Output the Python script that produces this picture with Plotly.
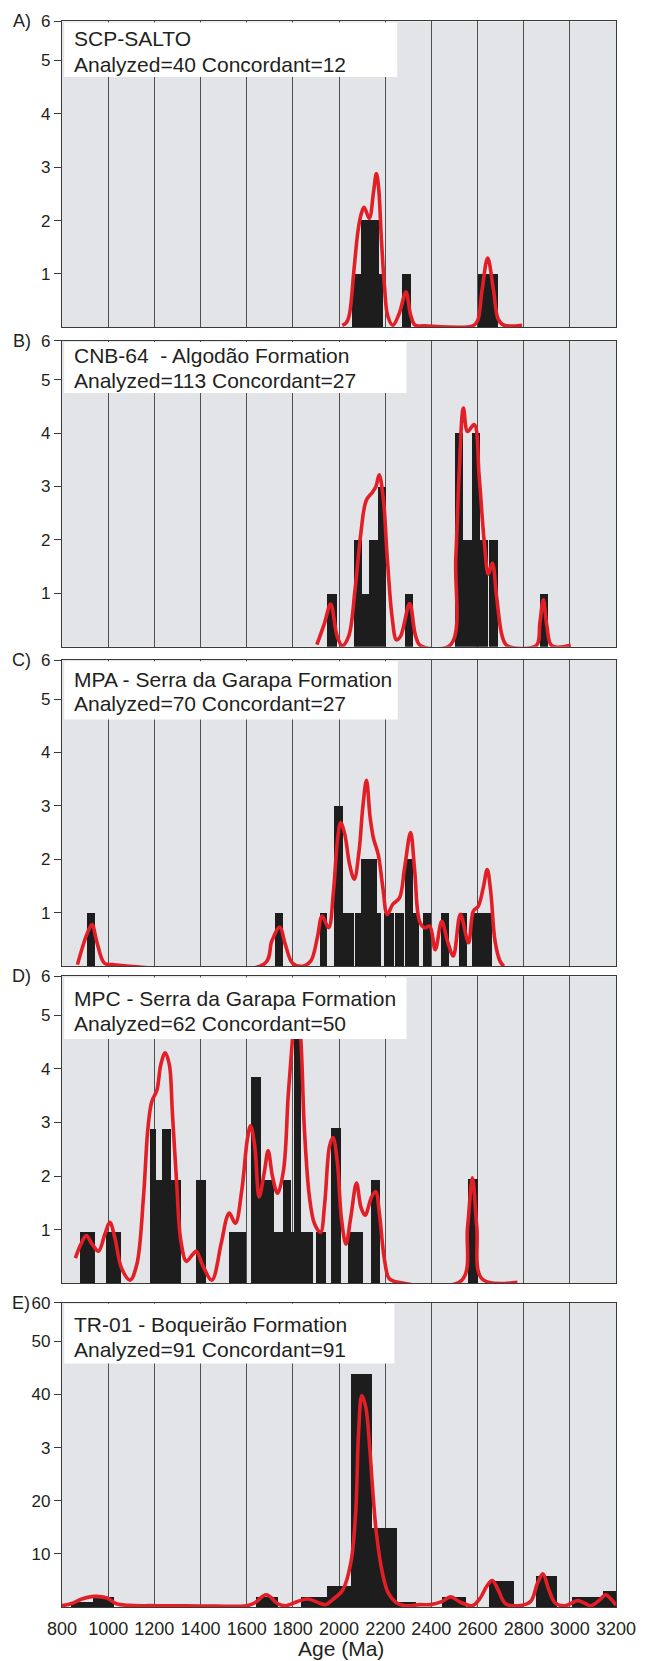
import plotly.graph_objects as go

# ---------------- data ----------------
panel_letters = ["A)", "B)", "C)", "D)", "E)"]
sample_names = ["SCP-SALTO",
                "CNB-64  - Algodão Formation",
                "MPA - Serra da Garapa Formation",
                "MPC - Serra da Garapa Formation",
                "TR-01 - Boqueirão Formation"]
sample_counts = ["Analyzed=40 Concordant=12",
                 "Analyzed=113 Concordant=27",
                 "Analyzed=70 Concordant=27",
                 "Analyzed=62 Concordant=50",
                 "Analyzed=91 Concordant=91"]

x_ticks = [800, 1000, 1200, 1400, 1600, 1800, 2000, 2200, 2400, 2600, 2800, 3000, 3200]
y_tick_vals_small = [1, 2, 3, 4, 5, 5.73]
y_tick_text_small = ["1", "2", "3", "4", "5", "6"]
y_tick_vals_E = [10, 20, 30, 40, 50, 57.3]
y_tick_text_E = ["10", "20", "3", "40", "50", "60"]

# Panel A
A_bar_left = [2058, 2095, 2139, 2172, 2271, 2600]
A_bar_right = [2095, 2137, 2172, 2191, 2311, 2688]
A_bar_height = [1, 2, 2, 1, 1, 1]
A_curve_x = [2014, 2030, 2044, 2065, 2083, 2098, 2109, 2131, 2150, 2162, 2172, 2183, 2197, 2211,
             2233, 2260, 2290, 2311, 2330, 2370, 2580, 2600, 2620, 2644, 2669, 2690, 2715, 2793]
A_curve_y = [0.04, 0.08, 0.22, 1.08, 1.83, 2.15, 2.25, 2.04, 2.55, 2.88, 2.6, 1.7, 0.77, 0.22,
             0.04, 0.25, 0.66, 0.22, 0.04, 0.03, 0.03, 0.12, 0.71, 1.3, 0.71, 0.15, 0.04, 0.04]

# Panel B
B_bar_left = [1950, 2065, 2101, 2128, 2169, 2284, 2503, 2539, 2574, 2611, 2650, 2872]
B_bar_right = [1990, 2101, 2128, 2169, 2205, 2322, 2539, 2574, 2611, 2645, 2689, 2905]
B_bar_height = [1, 2, 1, 2, 3, 1, 4, 2, 4, 2, 2, 1]
B_curve_x = [1904, 1937, 1964, 1992, 2014, 2042, 2069, 2094, 2118, 2146, 2160, 2174, 2192, 2209,
             2230, 2249, 2267, 2306, 2332, 2354, 2484, 2506, 2520, 2539, 2557, 2586, 2607, 2629,
             2647, 2664, 2683, 2707, 2729, 2854, 2870, 2885, 2901, 2922, 3004]
B_curve_y = [0.04, 0.44, 0.8, 0.2, 0.02, 0.2, 1.05, 2.1, 2.74, 2.9, 3.0, 3.22, 2.77, 1.67,
             0.56, 0.13, 0.2, 0.81, 0.2, 0.02, 0.04, 1.67, 3.2, 4.47, 4.03, 4.16, 3.2, 1.98,
             1.36, 1.57, 0.93, 0.2, 0.02, 0.02, 0.44, 0.88, 0.38, 0.02, 0.03]

# Panel C
C_bar_left = [910, 1721, 1916, 1980, 2018, 2069, 2094, 2163, 2196, 2241, 2284, 2320, 2364, 2442, 2519, 2578, 2610]
C_bar_right = [945, 1756, 1948, 2018, 2063, 2094, 2163, 2183, 2238, 2281, 2320, 2345, 2400, 2477, 2554, 2610, 2661]
C_bar_height = [1, 1, 1, 3, 1, 1, 2, 1, 1, 1, 2, 1, 1, 1, 1, 1, 1]
C_curve_x = [867, 908, 930, 950, 983, 1018, 1676, 1709, 1743, 1768, 1798, 1841, 1878, 1906, 1927,
             1955, 1976, 1993, 2007, 2025, 2046, 2066, 2087, 2103, 2119, 2135, 2149, 2170, 2190,
             2209, 2233, 2262, 2284, 2310, 2328, 2349, 2371, 2393, 2417, 2445, 2470, 2495, 2526,
             2561, 2582, 2603, 2625, 2642, 2657, 2676, 2698, 2714]
C_curve_y = [0.03, 0.6, 0.78, 0.47, 0.06, 0.03, 0.04, 0.47, 0.73, 0.4, 0.06, 0.0, 0.1, 0.53, 0.94,
             0.72, 1.4, 2.34, 2.69, 2.47, 1.9, 1.63, 2.16, 2.97, 3.48, 2.78, 2.4, 2.09, 1.47,
             0.97, 1.16, 1.28, 1.84, 2.5, 1.78, 0.84, 0.72, 0.75, 0.31, 0.84, 0.47, 0.19, 0.97,
             0.44, 1.03, 1.12, 1.47, 1.81, 1.41, 0.47, 0.09, 0.0]

# Panel D
D_bar_left = [879, 990, 1180, 1208, 1235, 1272, 1380, 1522, 1618, 1661, 1719, 1756, 1792, 1807,
              1836, 1901, 1964, 2037, 2138, 2557]
D_bar_right = [942, 1055, 1208, 1235, 1272, 1315, 1424, 1598, 1661, 1719, 1756, 1792, 1807, 1836,
               1887, 1945, 2007, 2103, 2178, 2600]
D_bar_height = [0.96, 0.96, 2.88, 1.93, 2.88, 1.93, 1.93, 0.96, 3.85, 1.93, 0.96, 1.93, 0.96, 5.0,
                0.96, 0.96, 2.9, 0.96, 1.93, 1.95]
D_curve_x = [858, 882, 905, 931, 958, 986, 1007, 1029, 1058, 1095, 1124, 1153, 1172, 1189, 1211,
             1228, 1247, 1265, 1278, 1296, 1315, 1339, 1366, 1382, 1408, 1449, 1489, 1514, 1525,
             1551, 1579, 1603, 1617, 1635, 1654, 1676, 1693, 1712, 1734, 1760, 1780, 1799, 1814,
             1833, 1850, 1872, 1894, 1920, 1938, 1959, 1974, 1993, 2010, 2030, 2051, 2076, 2095,
             2113, 2141, 2159, 2175, 2196, 2217, 2245, 2530, 2557, 2578, 2597, 2620, 2773]
D_curve_y = [0.47, 0.73, 0.89, 0.73, 0.6, 0.92, 1.14, 0.85, 0.28, 0.06, 0.35, 1.61, 2.88, 3.39, 3.6,
             4.08, 4.3, 4.08, 3.2, 1.93, 0.79, 0.41, 0.54, 0.6, 0.35, 0.06, 0.73, 1.23, 1.31,
             1.12, 1.74, 2.69, 2.94, 2.56, 1.61, 2.06, 2.47, 1.99, 1.68, 2.12, 3.51, 4.59, 5.3,
             4.65, 2.88, 1.61, 1.11, 0.95, 1.49, 2.56, 2.72, 2.25, 1.23, 0.73, 1.23, 1.87, 1.42,
             1.27, 1.61, 1.71, 1.3, 0.47, 0.09, 0.03, 0.05, 1.05, 1.97, 1.05, 0.08, 0.02]

# Panel E
E_bar_left = [838, 933, 1642, 1837, 1947, 2051, 2145, 2251, 2448, 2650, 2853, 3010, 3143]
E_bar_right = [933, 1026, 1736, 1947, 2051, 2145, 2251, 2333, 2548, 2756, 2945, 3143, 3200]
E_bar_height = [1, 2, 2, 2, 4, 44, 15, 1, 2, 5, 6, 2, 3]
E_curve_x = [800, 838, 886, 940, 995, 1036, 1090, 1200, 1400, 1600, 1634, 1685, 1736, 1769, 1820,
             1865, 1914, 1943, 1973, 2017, 2051, 2072, 2085, 2099, 2116, 2133, 2145, 2162, 2188,
             2214, 2251, 2287, 2351, 2396, 2448, 2483, 2526, 2578, 2612, 2640, 2664, 2689, 2722,
             2777, 2830, 2860, 2883, 2909, 2937, 2979, 3034, 3063, 3092, 3131, 3155, 3180, 3200]
E_curve_y = [0.25, 0.6, 1.5, 2.0, 1.7, 0.6, 0.3, 0.25, 0.2, 0.25, 0.75, 2.3, 0.6, 0.25, 1.05,
             1.5, 0.75, 0.45, 1.4, 3.25, 8.25, 17.6, 33, 39.8, 37.6, 30, 22.6, 13.9, 6.4,
             2.6, 0.75, 0.25, 0.45, 0.45, 1.05, 1.9, 0.9, 0.25, 1.7, 3.9, 5.0, 3.25, 0.6,
             0.25, 1.05, 4.5, 6.25, 3.25, 0.75, 0.25, 1.2, 0.75, 0.25, 1.4, 2.3, 1.4, 0.35]

bars_left = [A_bar_left, B_bar_left, C_bar_left, D_bar_left, E_bar_left]
bars_right = [A_bar_right, B_bar_right, C_bar_right, D_bar_right, E_bar_right]
bars_height = [A_bar_height, B_bar_height, C_bar_height, D_bar_height, E_bar_height]
curves_x = [A_curve_x, B_curve_x, C_curve_x, D_curve_x, E_curve_x]
curves_y = [A_curve_y, B_curve_y, C_curve_y, D_curve_y, E_curve_y]
y_max = [5.73, 5.73, 5.73, 5.73, 57.3]

# ---------------- layout constants (pixels) ----------------
W, H = 648, 1661
ML, MR, MT, MB = 62, 31, 18, 54
PH = H - MT - MB
panel_top_px = [18.3, 338.3, 658.3, 975.0, 1302.0]
panel_bot_px = [325.0, 645.0, 965.0, 1282.7, 1607.0]
box_right = [0.605, 0.622, 0.606, 0.622, 0.60]
box_bottom_px = [74, 390.7, 717.7, 1038, 1363]
line1_off = [17, 14.5, 19.7, 22.7, 21.6]
line2_off = [43, 40, 43.7, 47.8, 46.8]

FONT = "Liberation Sans, Arial, Helvetica, sans-serif"
BAR_COLOR = "#1d1d1d"
RED = "#e21f26"
BG = "#e2e4e7"
GRID = "#4f4f4f"
AXIS = "#3a3a3a"

fig = go.Figure()
layout = dict(
    width=W, height=H,
    margin=dict(l=ML, r=MR, t=MT, b=MB, pad=0),
    paper_bgcolor="white", plot_bgcolor=BG,
    showlegend=False, barmode="overlay", bargap=0,
    font=dict(family=FONT, color="#231f20"),
)
shapes = []
annotations = []


def to_frac(py):
    return (H - MB - py) / PH


for i in range(5):
    n = i + 1
    xa = "x" if n == 1 else f"x{n}"
    ya = "y" if n == 1 else f"y{n}"
    left = bars_left[i]
    right = bars_right[i]
    centers = [(l + r) / 2 for l, r in zip(left, right)]
    widths = [r - l for l, r in zip(left, right)]
    fig.add_trace(go.Bar(x=centers, y=bars_height[i], width=widths,
                         marker=dict(color=BAR_COLOR, line=dict(width=0)),
                         xaxis=xa, yaxis=ya, hoverinfo="skip"))
    fig.add_trace(go.Scatter(x=curves_x[i], y=curves_y[i], mode="lines",
                             line=dict(color=RED, width=3.6, shape="spline", smoothing=1.0),
                             xaxis=xa, yaxis=ya, hoverinfo="skip"))

    dom = [to_frac(panel_bot_px[i]), to_frac(panel_top_px[i])]
    is_last = (i == 4)
    layout["xaxis" if n == 1 else f"xaxis{n}"] = dict(
        domain=[0, 1], range=[800, 3200], anchor=ya,
        tickvals=x_ticks, showticklabels=is_last,
        ticks="outside" if is_last else "", ticklen=5, tickcolor="rgba(0,0,0,0)",
        tickfont=dict(size=18, family=FONT, color="#231f20"),
        showgrid=True, gridcolor=GRID, gridwidth=1.1,
        showline=True, mirror=True, linecolor=AXIS, linewidth=1.4,
        zeroline=False, fixedrange=True,
    )
    if i < 4:
        tv, tt = y_tick_vals_small, y_tick_text_small
    else:
        tv, tt = y_tick_vals_E, y_tick_text_E
    layout["yaxis" if n == 1 else f"yaxis{n}"] = dict(
        domain=dom, range=[0, y_max[i]], anchor=xa,
        tickvals=tv, ticktext=tt, ticks="outside", ticklen=7, tickwidth=1.2,
        tickcolor=AXIS, tickfont=dict(size=17, family=FONT, color="#231f20"),
        showgrid=False, showline=True, mirror=True, linecolor=AXIS, linewidth=1.4,
        zeroline=False, fixedrange=True,
    )

    ph = panel_bot_px[i] - panel_top_px[i]
    shapes.append(dict(type="rect", xref=f"{xa} domain", yref=f"{ya} domain",
                       x0=0.004, x1=box_right[i],
                       y0=(panel_bot_px[i] - box_bottom_px[i]) / ph, y1=0.996,
                       fillcolor="white", line=dict(width=0), layer="above"))
    annotations.append(dict(text=sample_names[i], xref=f"{xa} domain", yref=f"{ya} domain",
                            x=10 / 555, y=1 - line1_off[i] / ph, xanchor="left", yanchor="middle",
                            showarrow=False, font=dict(size=21, family=FONT, color="#231f20")))
    annotations.append(dict(text=sample_counts[i], xref=f"{xa} domain", yref=f"{ya} domain",
                            x=10 / 555, y=1 - line2_off[i] / ph, xanchor="left", yanchor="middle",
                            showarrow=False, font=dict(size=21, family=FONT, color="#231f20")))
    annotations.append(dict(text=panel_letters[i], xref="paper", yref=f"{ya} domain",
                            x=(33 - ML) / 555 if i < 4 else (32 - ML) / 555, y=1.0,
                            xanchor="right", yanchor="middle", showarrow=False,
                            font=dict(size=18, family=FONT, color="#231f20")))

annotations.append(dict(text="Age (Ma)", xref="paper", yref="paper",
                        x=(342 - ML) / 555, y=(H - MB - 1649) / PH,
                        xanchor="center", yanchor="middle", showarrow=False,
                        font=dict(size=21, family=FONT, color="#231f20")))

layout["shapes"] = shapes
layout["annotations"] = annotations
fig.update_layout(**layout)
fig.write_html("out.html", config={"displayModeBar": False})
